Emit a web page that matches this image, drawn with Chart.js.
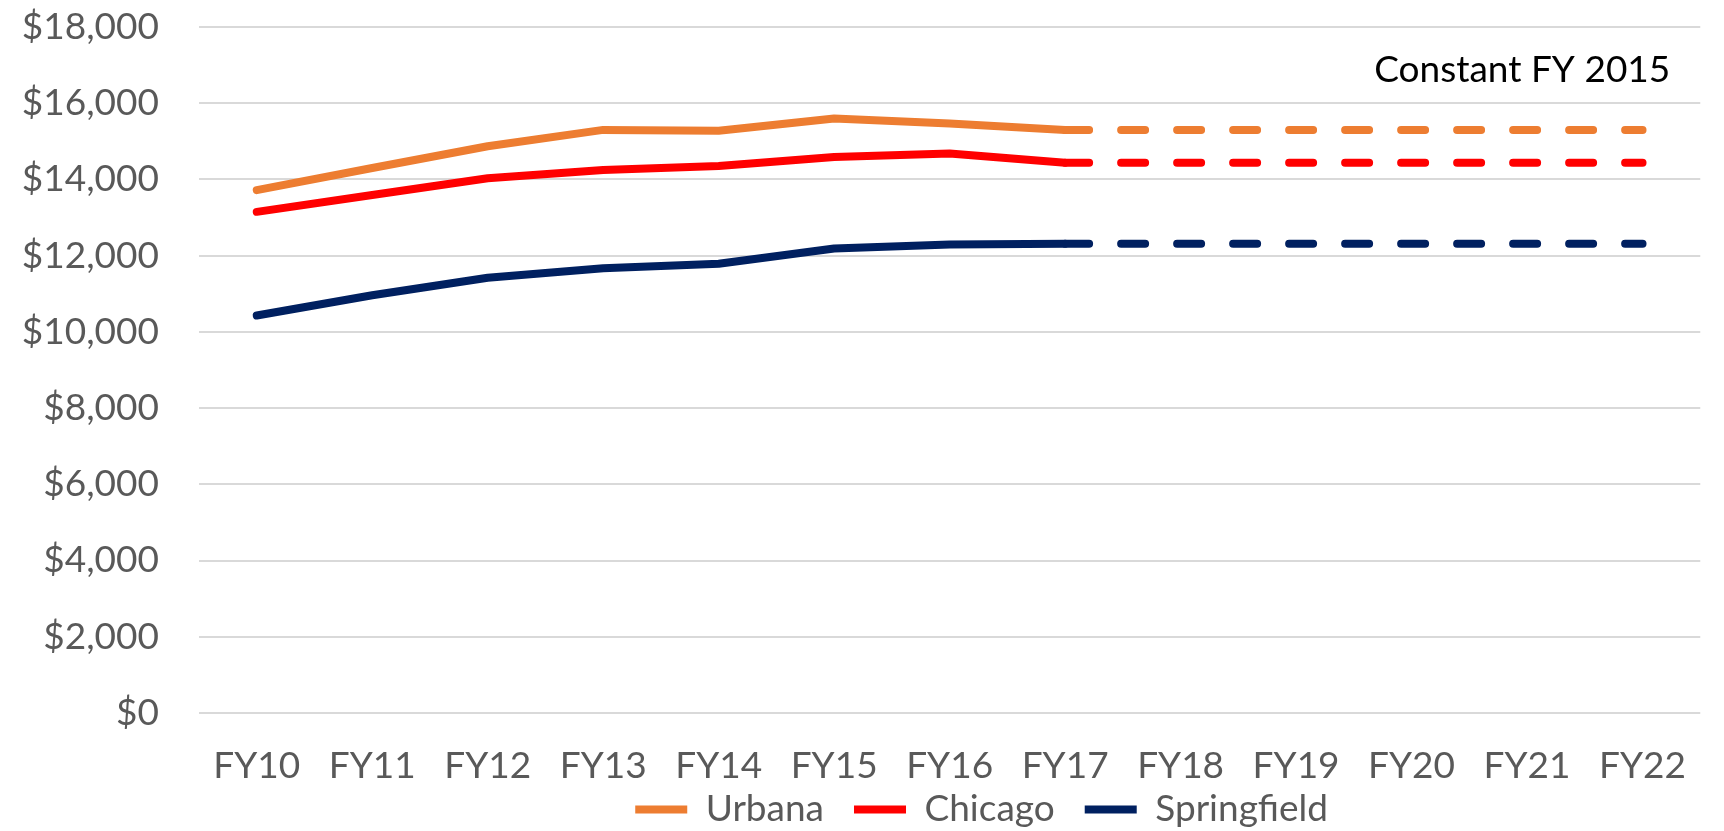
<!DOCTYPE html>
<html>
<head>
<meta charset="utf-8">
<title>Constant FY 2015</title>
<script src="https://cdn.jsdelivr.net/npm/chart.js@4.4.1/dist/chart.umd.min.js"></script>
<style>
  html, body { margin: 0; padding: 0; background: #fff; }
  #wrap { width: 1724px; height: 831px; }
</style>
</head>
<body>
<div id="wrap"><canvas id="costChart"></canvas></div>
<script>
  const years = ['FY10', 'FY11', 'FY12', 'FY13', 'FY14', 'FY15', 'FY16', 'FY17', 'FY18', 'FY19', 'FY20', 'FY21', 'FY22'];

  // actuals FY10-FY17
  const urbana = [13720, 14300, 14870, 15300, 15280, 15600, 15470, 15300];
  const chicago = [13150, 13590, 14030, 14250, 14350, 14590, 14680, 14440];
  const springfield = [10430, 10960, 11420, 11670, 11790, 12190, 12290, 12310];

  // projections held flat FY17-FY22 (dashed)
  const urbanaProj = [null, null, null, null, null, null, null, 15300, 15300, 15300, 15300, 15300, 15300];
  const chicagoProj = [null, null, null, null, null, null, null, 14440, 14440, 14440, 14440, 14440, 14440];
  const springfieldProj = [null, null, null, null, null, null, null, 12310, 12310, 12310, 12310, 12310, 12310];

  const yTicks = [0, 2000, 4000, 6000, 8000, 10000, 12000, 14000, 16000, 18000];
  const note = 'Constant FY 2015';

  const ORANGE = '#ED7D31';
  const RED = '#FF0000';
  const NAVY = '#002060';
  const FONT = 'Lato';

  function line(label, data, color, dashed) {
    return {
      label,
      data,
      borderColor: color,
      backgroundColor: color,
      borderWidth: 8,
      borderCapStyle: 'round',
      borderJoinStyle: 'round',
      borderDash: dashed ? [24, 32] : [],
      pointRadius: 0,
      pointHoverRadius: 0,
      tension: 0,
      spanGaps: false
    };
  }

  const notePlugin = {
    id: 'notePlugin',
    afterDraw(chart) {
      const { ctx, chartArea } = chart;
      ctx.save();
      ctx.font = `37px ${FONT}`;
      ctx.fillStyle = '#000';
      ctx.textAlign = 'right';
      ctx.textBaseline = 'alphabetic';
      ctx.fillText(note, chartArea.right - 30, chartArea.top + 55);
      ctx.restore();
    }
  };

  // legend sits a bit right of centre; grow its box upward so the row lands lower-right as in the original
  const legendNudge = {
    id: 'legendNudge',
    afterLayout(chart) {
      const lg = chart.legend;
      if (!lg) return;
      lg.top -= 20;
      lg.height += 20;
      lg.left += 32; lg.right += 32;
    }
  };

  new Chart(document.getElementById('costChart'), {
    type: 'line',
    data: {
      labels: years,
      datasets: [
        line('Urbana', urbana, ORANGE, false),
        line('Chicago', chicago, RED, false),
        line('Springfield', springfield, NAVY, false),
        line('Urbana proj', urbanaProj, ORANGE, true),
        line('Chicago proj', chicagoProj, RED, true),
        line('Springfield proj', springfieldProj, NAVY, true)
      ]
    },
    options: {
      responsive: true,
      maintainAspectRatio: false,
      animation: false,
      layout: { padding: { top: 27, right: 0, bottom: 0, left: 0 } },
      scales: {
        x: {
          offset: true,
          grid: { display: false, drawTicks: false },
          border: { display: false },
          ticks: {
            color: '#595959',
            font: { family: FONT, size: 37, lineHeight: 0.8 },
            padding: 38,
            maxRotation: 0
          },
          afterFit(scale) { scale.height = 68; }
        },
        y: {
          min: 0,
          max: 18000,
          afterBuildTicks(scale) { scale.ticks = yTicks.map(v => ({ value: v })); },
          grid: { color: '#D9D9D9', lineWidth: 2, drawTicks: true, tickLength: 40, tickColor: 'rgba(0,0,0,0)' },
          border: { display: false },
          ticks: {
            color: '#595959',
            font: { family: FONT, size: 37 },
            padding: 0,
            callback: v => '$' + Number(v).toLocaleString('en-US')
          },
          afterFit(scale) { scale.width = 199; }
        }
      },
      plugins: {
        legend: {
          position: 'bottom',
          fullSize: false,
          maxHeight: 50,
          labels: {
            color: '#595959',
            font: { family: FONT, size: 37 },
            usePointStyle: true,
            pointStyle: 'line',
            pointStyleWidth: 52,
            padding: 30,
            filter: item => item.datasetIndex < 3
          }
        },
        tooltip: { enabled: false }
      }
    },
    plugins: [notePlugin, legendNudge]
  });
</script>
</body>
</html>
